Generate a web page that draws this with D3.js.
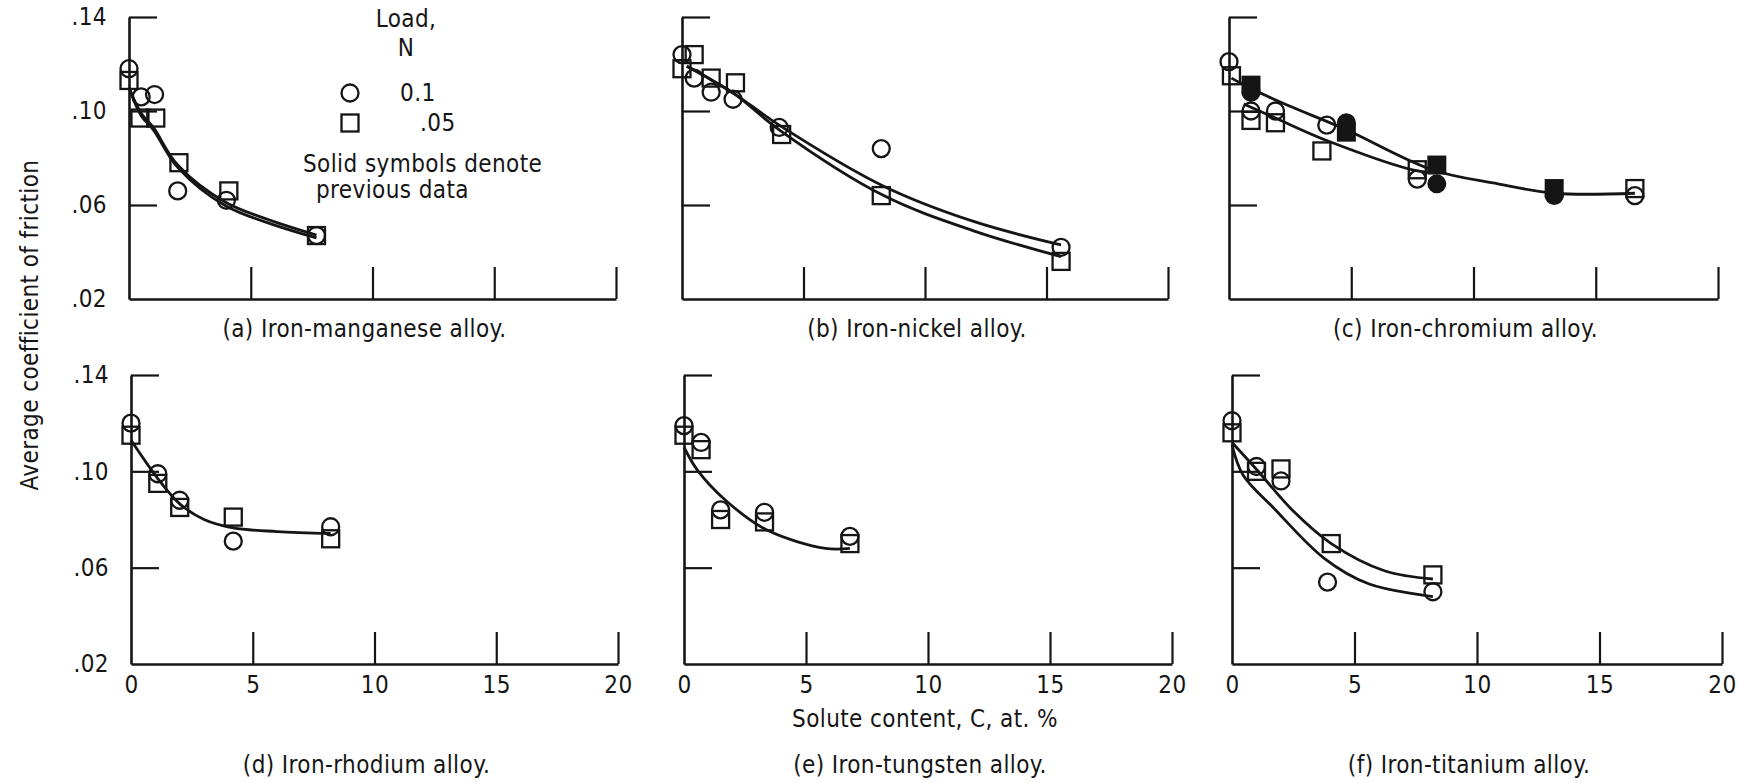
<!DOCTYPE html>
<html><head><meta charset="utf-8">
<script src="https://cdn.jsdelivr.net/npm/d3@7"></script>
<style>
body{margin:0;background:#fff;}
svg text{font-family:"Liberation Sans Narrow","DejaVu Sans Condensed","Arial Narrow",sans-serif;fill:#151515;}
</style></head><body>
<svg id="chart" width="1737" height="783"></svg>
<script>
// ---------- shared axis data ----------
const xTicks = [0, 5, 10, 15, 20];
const xTickLabels = ["0", "5", "10", "15", "20"];
const yTicks = [0.14, 0.10, 0.06, 0.02];
const yTickLabels = [".14", ".10", ".06", ".02"];
const captions = ["(a) Iron-manganese alloy.", "(b) Iron-nickel alloy.", "(c) Iron-chromium alloy.",
                  "(d) Iron-rhodium alloy.", "(e) Iron-tungsten alloy.", "(f) Iron-titanium alloy."];
const yAxisTitle = "Average coefficient of friction";
const xAxisTitle = "Solute content, C, at. %";
const legendTitle = ["Load,", "N"];
const legendLoads = ["0.1", ".05"];
const legendNote = ["Solid symbols denote", "previous data"];

// ---------- (a) iron-manganese ----------
const mnCircles = [[0, 0.118], [0.5, 0.106], [1.05, 0.107], [2, 0.066], [4, 0.062], [7.7, 0.047]];
const mnSquares = [[0, 0.113], [0.45, 0.097], [1.1, 0.097], [2.05, 0.078], [4.1, 0.066], [7.7, 0.047]];
const mnCurveA = [[0, 0.110], [0.5, 0.098], [1, 0.092], [2, 0.076], [4, 0.0595], [7.7, 0.0460]];
const mnCurveB = [[0, 0.110], [0.5, 0.099], [1, 0.093], [2, 0.077], [4, 0.0610], [7.7, 0.0472]];

// ---------- (b) iron-nickel ----------
const niCircles = [[0, 0.124], [0.5, 0.114], [1.2, 0.108], [2.1, 0.105], [4, 0.093], [8.2, 0.084], [15.6, 0.042]];
const niSquares = [[0.5, 0.124], [0, 0.118], [1.2, 0.114], [2.2, 0.112], [4.1, 0.090], [8.2, 0.064], [15.6, 0.036]];
const niCurveA = [[0.2, 0.119], [1.25, 0.113], [2.2, 0.107], [4, 0.094], [8.3, 0.068], [12, 0.053], [15.6, 0.043]];
const niCurveB = [[0.2, 0.119], [1.25, 0.113], [2.2, 0.107], [4, 0.092], [8.3, 0.064], [12, 0.049], [15.6, 0.038]];

// ---------- (c) iron-chromium ----------
const crCircles = [[0, 0.121], [0.9, 0.100], [1.9, 0.100], [4, 0.094], [7.7, 0.071], [16.6, 0.064]];
const crSquares = [[0.1, 0.115], [0.9, 0.096], [1.9, 0.095], [3.8, 0.083], [7.7, 0.075], [16.6, 0.067]];
const crCirclesPrev = [[0.9, 0.108], [4.8, 0.095], [8.5, 0.069], [13.3, 0.064]];
const crSquaresPrev = [[0.9, 0.111], [4.8, 0.091], [8.5, 0.077], [13.3, 0.067]];
const crCurveA = [[0.1, 0.114], [1, 0.109], [2.5, 0.102], [4.8, 0.092], [8.3, 0.075], [11, 0.069], [13.3, 0.065], [16.6, 0.065]];
const crCurveB = [[0.6, 0.103], [1.9, 0.097], [4.1, 0.087], [7.7, 0.0745], [8.5, 0.074]];

// ---------- (d) iron-rhodium ----------
const rhCircles = [[0, 0.120], [1.1, 0.099], [2, 0.088], [4.2, 0.071], [8.2, 0.077]];
const rhSquares = [[0, 0.115], [1.1, 0.095], [2, 0.085], [4.2, 0.081], [8.2, 0.072]];
const rhCurve = [[0, 0.113], [1.1, 0.097], [2, 0.0865], [3, 0.080], [4.2, 0.0765], [6, 0.075], [8.2, 0.0742]];

// ---------- (e) iron-tungsten ----------
const wCircles = [[0, 0.119], [0.7, 0.112], [1.5, 0.084], [3.3, 0.083], [6.8, 0.073]];
const wSquares = [[0, 0.115], [0.7, 0.109], [1.5, 0.080], [3.3, 0.079], [6.8, 0.070]];
const wCurve = [[0, 0.110], [0.55, 0.1005], [1.7, 0.088], [3.4, 0.0756], [5.8, 0.068], [6.8, 0.068]];

// ---------- (f) iron-titanium ----------
const tiCircles = [[0, 0.121], [1, 0.102], [2, 0.096], [3.9, 0.054], [8.2, 0.050]];
const tiSquares = [[0, 0.116], [1, 0.100], [2, 0.101], [4.05, 0.070], [8.2, 0.057]];
const tiCurveA = [[0, 0.112], [0.95, 0.1014], [2.5, 0.0835], [4.05, 0.070], [6.25, 0.0586], [8.2, 0.0553]];
const tiCurveB = [[0, 0.111], [0.45, 0.0985], [1.7, 0.0848], [3.75, 0.064], [5.6, 0.0532], [8.2, 0.048]];

// ---------- panel table built from the arrays ----------
const panels = [
  {circles: mnCircles, squares: mnSquares, curves: [mnCurveA, mnCurveB]},
  {circles: niCircles, squares: niSquares, curves: [niCurveA, niCurveB]},
  {circles: crCircles, squares: crSquares, circlesPrev: crCirclesPrev, squaresPrev: crSquaresPrev, curves: [crCurveA, crCurveB]},
  {circles: rhCircles, squares: rhSquares, curves: [rhCurve]},
  {circles: wCircles, squares: wSquares, curves: [wCurve]},
  {circles: tiCircles, squares: tiSquares, curves: [tiCurveA, tiCurveB]}
];

// ---------- layout ----------
const colRanges = [[[129, 616], [682, 1168], [1229, 1718]], [[131, 618], [684, 1172], [1232, 1722]]];
const rowRanges = [[299, 17], [664, 375]];
const captionY = [337, 773];
const INK = "#151515";
const FONT = 24;
const LS = "0.4px";

const svg = d3.select("#chart");

panels.forEach((p, i) => {
  const row = Math.floor(i / 3), col = i % 3;
  const x = d3.scaleLinear().domain([0, 20]).range(colRanges[row][col]);
  const y = d3.scaleLinear().domain([0.02, 0.14]).range(rowRanges[row]);
  const g = svg.append("g");

  // y axis: ticks pointing inward (to the right)
  const yAxis = d3.axisLeft(y).tickValues(yTicks).tickSize(-28).tickSizeOuter(0).tickPadding(22)
    .tickFormat((d, k) => col === 0 ? yTickLabels[k] : "");
  const gy = g.append("g").attr("transform", `translate(${x(0)},0)`).call(yAxis);

  // x axis: ticks pointing upward
  const xAxis = d3.axisBottom(x).tickValues(xTicks).tickSize(-32).tickSizeOuter(0).tickPadding(12)
    .tickFormat((d, k) => row === 1 ? xTickLabels[k] : "");
  const gx = g.append("g").attr("transform", `translate(0,${y(0.02)})`).call(xAxis);

  [gx, gy].forEach(ax => {
    ax.select(".domain").attr("stroke", INK).attr("stroke-width", 2.6);
    ax.selectAll(".tick line").attr("stroke", INK).attr("stroke-width", 2.2);
    ax.selectAll(".tick text").attr("fill", INK).style("font-size", FONT + "px").style("letter-spacing", LS);
  });
  gx.selectAll(".tick").filter(d => d === 0).select("line").remove();
  gy.selectAll(".tick").filter(d => d === 0.02).select("line").remove();

  // fitted curves
  const line = d3.line().x(d => x(d[0])).y(d => y(d[1])).curve(d3.curveCatmullRom.alpha(0.5));
  p.curves.forEach(c => {
    g.append("path").attr("d", line(c)).attr("fill", "none").attr("stroke", INK).attr("stroke-width", 2.8);
  });

  // symbols
  const sq = 17, r = 8.5;
  g.selectAll(null).data(p.squares).enter().append("rect")
    .attr("x", d => x(d[0]) - sq / 2).attr("y", d => y(d[1]) - sq / 2)
    .attr("width", sq).attr("height", sq)
    .attr("fill", "none").attr("stroke", INK).attr("stroke-width", 2.3);
  g.selectAll(null).data(p.circles).enter().append("circle")
    .attr("cx", d => x(d[0])).attr("cy", d => y(d[1])).attr("r", r)
    .attr("fill", "none").attr("stroke", INK).attr("stroke-width", 2.3);
  if (p.squaresPrev) {
    g.selectAll(null).data(p.squaresPrev).enter().append("rect")
      .attr("x", d => x(d[0]) - sq / 2).attr("y", d => y(d[1]) - sq / 2)
      .attr("width", sq).attr("height", sq).attr("fill", INK).attr("stroke", INK).attr("stroke-width", 2);
  }
  if (p.circlesPrev) {
    g.selectAll(null).data(p.circlesPrev).enter().append("circle")
      .attr("cx", d => x(d[0])).attr("cy", d => y(d[1])).attr("r", r)
      .attr("fill", INK).attr("stroke", INK).attr("stroke-width", 2);
  }

  // caption
  g.append("text").attr("x", (x(0) + x(20)) / 2 - 8).attr("y", captionY[row])
    .attr("text-anchor", "middle").style("font-size", FONT + "px").style("letter-spacing", LS)
    .text(captions[i]);

  // legend in panel (a)
  if (i === 0) {
    const lg = svg.append("g").style("font-size", FONT + "px").style("letter-spacing", LS);
    lg.append("text").attr("x", 406).attr("y", 27).attr("text-anchor", "middle").text(legendTitle[0]);
    lg.append("text").attr("x", 406).attr("y", 56).attr("text-anchor", "middle").text(legendTitle[1]);
    lg.append("circle").attr("cx", 350).attr("cy", 93).attr("r", r).attr("fill", "none").attr("stroke", INK).attr("stroke-width", 2.3);
    lg.append("text").attr("x", 400).attr("y", 101).text(legendLoads[0]);
    lg.append("rect").attr("x", 350 - sq / 2).attr("y", 123 - sq / 2).attr("width", sq).attr("height", sq)
      .attr("fill", "none").attr("stroke", INK).attr("stroke-width", 2.3);
    lg.append("text").attr("x", 420).attr("y", 131).text(legendLoads[1]);
    lg.append("text").attr("x", 303).attr("y", 172).text(legendNote[0]);
    lg.append("text").attr("x", 316).attr("y", 198).text(legendNote[1]);
  }
});

// axis titles
svg.append("text").attr("transform", "translate(38,325) rotate(-90)").attr("text-anchor", "middle")
  .style("font-size", "24px").style("letter-spacing", LS).text(yAxisTitle);
svg.append("text").attr("x", 925).attr("y", 727).attr("text-anchor", "middle")
  .style("font-size", FONT + "px").style("letter-spacing", LS).text(xAxisTitle);
</script>
</body></html>
